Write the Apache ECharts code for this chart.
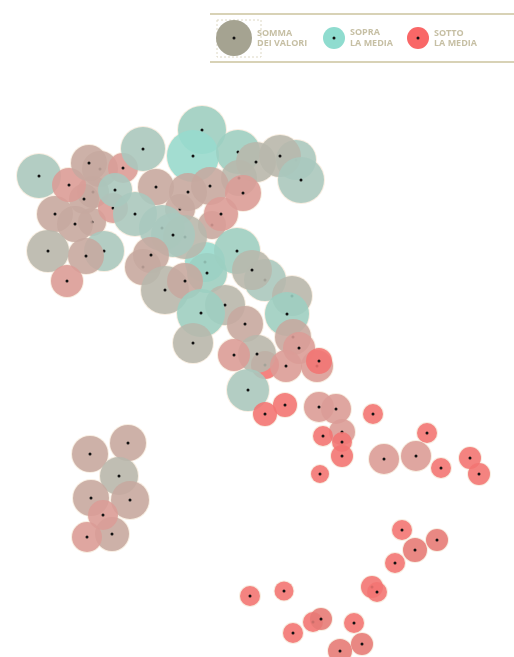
<!DOCTYPE html>
<html>
<head>
<meta charset="utf-8">
<title>Somma dei valori</title>
<script src="https://cdn.jsdelivr.net/npm/echarts@6/dist/echarts.min.js"></script>
<style>
  html, body { margin: 0; padding: 0; background: #fff; }
  #chart { width: 514px; height: 657px; filter: blur(0.7px); }
</style>
</head>
<body>
<div id="chart"></div>
<script>
// map position of each bubble
const xs = [39, 100, 93, 92, 123, 113, 115, 55, 84, 75, 69, 89, 202, 143, 193, 238, 296, 239, 256, 280, 301, 156, 180, 188, 212, 210, 243, 221, 205, 207, 162, 185, 135, 173, 237, 143, 151, 48, 104, 86, 67, 265, 252, 165, 185, 225, 292, 287, 201, 193, 245, 293, 265, 257, 234, 299, 317, 286, 319, 248, 265, 285, 319, 336, 373, 342, 323, 342, 342, 320, 384, 416, 427, 441, 470, 479, 128, 90, 119, 91, 130, 112, 103, 87, 402, 437, 415, 395, 372, 377, 250, 284, 313, 321, 293, 354, 362, 340];
const ys = [176, 169, 192, 222, 168, 208, 190, 214, 199, 224, 185, 163, 130, 149, 156, 152, 160, 178, 162, 156, 180, 187, 209, 192, 225, 186, 193, 214, 262, 273, 228, 237, 214, 235, 251, 267, 255, 251, 251, 256, 281, 280, 270, 290, 281, 305, 296, 314, 313, 343, 324, 337, 365, 354, 355, 348, 366, 366, 361, 390, 414, 405, 407, 409, 414, 432, 436, 442, 456, 474, 459, 456, 433, 468, 458, 474, 443, 454, 476, 498, 500, 534, 515, 537, 530, 540, 550, 563, 587, 592, 596, 591, 622, 619, 633, 623, 644, 651];
const radii = [22, 18, 16, 14, 15, 15, 17, 18, 15, 18, 17, 18, 24, 22, 26, 22, 20, 18, 20, 21, 23, 18, 15, 19, 14, 19, 18, 17, 20, 20, 23, 22, 22, 22, 23, 18, 18, 21, 20, 18, 16, 21, 20, 24, 18, 20, 20, 22, 24, 20, 18, 18, 14, 19, 16, 16, 16, 16, 13, 21, 12, 12, 15, 15, 10, 13, 10, 10, 11, 9, 15, 15, 10, 10, 11, 11, 18, 18, 19, 18, 19, 17, 15, 15, 10, 11, 12, 10, 11, 10, 10, 9.5, 10, 11, 10, 10, 11, 12];
// 0 bright teal, 1 teal-grey, 2 grey, 3 grey-pink, 4 pink, 5 salmon, 6 red, 7 mid teal
const tones = [1, 3, 3, 3, 4, 4, 1, 3, 3, 3, 4, 3, 7, 1, 0, 7, 1, 2, 2, 2, 1, 3, 3, 3, 3, 3, 4, 4, 0, 7, 1, 2, 1, 1, 7, 3, 3, 2, 1, 3, 4, 1, 2, 2, 3, 2, 2, 7, 7, 2, 3, 3, 6, 2, 4, 4, 4, 4, 6, 1, 6, 6, 4, 4, 6, 4, 6, 6, 6, 6, 4, 4, 6, 6, 6, 6, 3, 3, 2, 3, 3, 3, 4, 4, 6, 5, 5, 6, 6, 6, 6, 6, 6, 5, 6, 6, 5, 5];

const toneColors = ['#96dbce', '#a9c8be', '#b7b7ac', '#c6a89f', '#db9c96', '#e67a75', '#f37472', '#9ccfc2'];

const points = [];
// cream halo under everything, only its outer edge stays visible
xs.forEach((x, i) => {
  points.push({
    value: [x, ys[i]],
    symbolSize: radii[i] * 2 + 2,
    itemStyle: { color: '#f8eee2', opacity: 1, borderWidth: 0 }
  });
});
// a bubble followed by its dot, so later bubbles veil earlier dots
xs.forEach((x, i) => {
  points.push({
    value: [x, ys[i]],
    symbolSize: radii[i] * 2,
    itemStyle: { color: toneColors[tones[i]], opacity: 0.88, borderWidth: 0 }
  });
  points.push({
    value: [x, ys[i]],
    symbolSize: 3,
    itemStyle: { color: '#111', opacity: 1, borderWidth: 0 }
  });
});

const ruleColor = '#d8d2b6';
const labelColor = '#c6bfa4';
const label = (x, y, text) => ({
  type: 'text',
  x, y,
  style: { text, fill: labelColor, font: 'bold 9px "Open Sans", sans-serif' }
});
const swatch = (cx, cy, r, fill) => [
  { type: 'circle', shape: { cx, cy, r }, style: { fill } },
  { type: 'circle', shape: { cx, cy, r: 1.5 }, style: { fill: '#111' } }
];

const chart = echarts.init(document.getElementById('chart'));
chart.setOption({
  animation: false,
  backgroundColor: '#fff',
  grid: { left: 0, right: 0, top: 0, bottom: 0 },
  xAxis: { type: 'value', min: 0, max: 514, show: false },
  yAxis: { type: 'value', min: 0, max: 657, inverse: true, show: false },
  series: [{
    type: 'scatter',
    silent: true,
    clip: false,
    data: points
  }],
  graphic: [
    { type: 'line', shape: { x1: 210, y1: 14, x2: 514, y2: 14 }, style: { stroke: ruleColor, lineWidth: 2 } },
    { type: 'line', shape: { x1: 210, y1: 62, x2: 514, y2: 62 }, style: { stroke: ruleColor, lineWidth: 2 } },
    { type: 'rect', shape: { x: 217, y: 20, width: 44, height: 37 }, style: { fill: 'none', stroke: '#ddd8c4', lineWidth: 1, lineDash: [2, 2] } },
    ...swatch(234, 38, 18, '#a5a391'),
    ...swatch(334, 38, 11, '#8fdccf'),
    ...swatch(418, 38, 11, '#f96767'),
    label(257, 29, 'SOMMA'),
    label(257, 39, 'DEI VALORI'),
    label(350, 28, 'SOPRA'),
    label(350, 39, 'LA MEDIA'),
    label(434, 29, 'SOTTO'),
    label(434, 39, 'LA MEDIA')
  ]
});
</script>
</body>
</html>
